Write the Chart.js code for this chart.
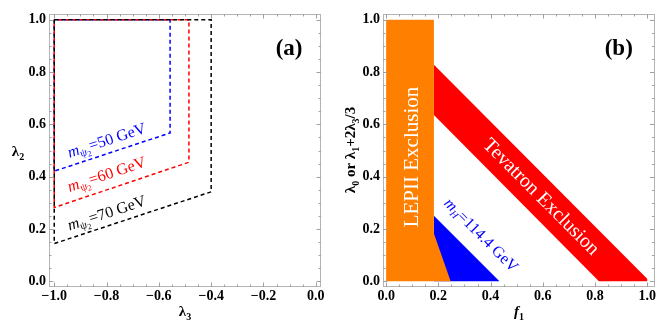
<!DOCTYPE html>
<html><head><meta charset="utf-8">
<script src="https://cdn.jsdelivr.net/npm/chart.js@4.4.1/dist/chart.umd.min.js"></script>
<style>
html,body{margin:0;padding:0;background:#fff;}
#wrap{position:relative;width:667px;height:334px;}
canvas{position:absolute;top:0;}
</style></head><body>
<div id="wrap">
<canvas id="ca" width="334" height="334" style="left:0"></canvas>
<canvas id="cb" width="333" height="334" style="left:334px"></canvas>
</div>
<script>
// ---------- Panel (a) data ----------
const lam3Ticks = [-1.0, -0.8, -0.6, -0.4, -0.2, 0.0];
const lam2Ticks = [0.0, 0.2, 0.4, 0.6, 0.8, 1.0];
const m50X = [-1.0, -1.0, -0.557, -0.557, -1.0];
const m50Y = [1.0, 0.421, 0.567, 1.0, 1.0];
const m60X = [-1.0, -1.0, -0.485, -0.485, -1.0];
const m60Y = [1.0, 0.282, 0.455, 1.0, 1.0];
const m70X = [-1.0, -1.0, -0.400, -0.400, -1.0];
const m70Y = [1.0, 0.144, 0.342, 1.0, 1.0];
const massValues = ['50', '60', '70'];
// ---------- Panel (b) data ----------
const f1Ticks = [0.0, 0.2, 0.4, 0.6, 0.8, 1.0];
const lamTicksB = [0.0, 0.2, 0.4, 0.6, 0.8, 1.0];
const lepX = [0.0, 0.0, 0.183, 0.183, 0.247, 0.0];
const lepY = [0.0, 1.0, 1.0, 0.183, 0.0, 0.0];
const tevX = [0.183, 1.0, 1.0, 0.815, 0.183, 0.183];
const tevY = [0.828, 0.010, 0.0, 0.0, 0.636, 0.828];
const higgsX = [0.183, 0.434, 0.183, 0.183];
const higgsY = [0.250, 0.0, 0.0, 0.250];
const higgsMass = '114.4';

const zip = (xs, ys) => xs.map((x, i) => ({x: x, y: ys[i]}));
const SERIF = "'Liberation Serif', 'Times New Roman', serif";
const fmt = v => (v < -1e-9 ? '\u2212' : '') + Math.abs(v).toFixed(1);

function segFont(s) {
  return (s.it ? 'italic ' : '') + (s.b ? 'bold ' : '') + s.size + 'px ' + SERIF;
}
function drawRich(ctx, segs, x, y, angle, color) {
  ctx.save();
  let w = 0;
  segs.forEach(s => { ctx.font = segFont(s); s.w = ctx.measureText(s.t).width; w += s.w; });
  const main = Math.max(...segs.map(s => s.size));
  ctx.translate(x, y);
  ctx.rotate(angle);
  ctx.fillStyle = color;
  ctx.textBaseline = 'alphabetic';
  ctx.textAlign = 'left';
  let cx = -w / 2;
  segs.forEach(s => {
    ctx.font = segFont(s);
    ctx.fillText(s.t, cx, main * 0.33 + (s.dy || 0));
    cx += s.w;
  });
  ctx.restore();
}

// frame + inward ticks, Mathematica style
const framePlugin = {
  id: 'frameTicks',
  afterDatasetsDraw(chart) {
    const {ctx, chartArea: a, scales: {x, y}} = chart;
    ctx.save();
    ctx.strokeStyle = '#b4b4b4';
    ctx.lineWidth = 1;
    ctx.strokeRect(Math.round(a.left) + 0.5, Math.round(a.top) + 0.5,
                   Math.round(a.right - a.left) - 1, Math.round(a.bottom - a.top) - 1);
    ctx.strokeStyle = '#a0a0a0';
    const step = 0.05;
    ctx.beginPath();
    for (let k = Math.ceil(x.min / step - 1e-6); k * step <= x.max + 1e-9; k++) {
      const v = k * step;
      const major = Math.abs(Math.round(k / 4) - k / 4) < 1e-6;
      const L = major ? 4.5 : 2.5;
      const px = Math.round(x.getPixelForValue(v)) + 0.5;
      ctx.moveTo(px, a.bottom); ctx.lineTo(px, a.bottom - L);
      ctx.moveTo(px, a.top); ctx.lineTo(px, a.top + L);
    }
    for (let k = Math.ceil(y.min / step - 1e-6); k * step <= y.max + 1e-9; k++) {
      const v = k * step;
      const major = Math.abs(Math.round(k / 4) - k / 4) < 1e-6;
      const L = major ? 4.5 : 2.5;
      const py = Math.round(y.getPixelForValue(v)) + 0.5;
      ctx.moveTo(a.left, py); ctx.lineTo(a.left + L, py);
      ctx.moveTo(a.right, py); ctx.lineTo(a.right - L, py);
    }
    ctx.stroke();
    ctx.restore();
  },
  afterDraw(chart) {
    const o = chart.options.plugins.richLabels;
    if (!o) return;
    const {ctx, scales: {x, y}} = chart;
    o.items.forEach(it => {
      const px = it.data ? x.getPixelForValue(it.pos[0]) : it.pos[0];
      const py = it.data ? y.getPixelForValue(it.pos[1]) : it.pos[1];
      let ang = it.angle || 0;
      if (it.along) {
        const [x0, y0, x1, y1] = it.along;
        ang = Math.atan2(y.getPixelForValue(y1) - y.getPixelForValue(y0),
                         x.getPixelForValue(x1) - x.getPixelForValue(x0));
      }
      drawRich(ctx, it.segs, px, py, ang, it.color);
    });
  }
};

function makeOptions(xmin, xmax, ymin, ymax, xt, yt, rightPad, items) {
  return {
    responsive: false,
    animation: false,
    devicePixelRatio: 1,
    layout: {padding: {top: 14, right: rightPad, left: 0, bottom: 0}},
    plugins: {legend: {display: false}, tooltip: {enabled: false},
              richLabels: {items: items}},
    scales: {
      x: {type: 'linear', min: xmin, max: xmax,
          grid: {display: false, drawTicks: false}, border: {display: false},
          afterBuildTicks: s => { s.ticks = xt.map(v => ({value: v})); },
          afterFit: s => { s.height = 47; },
          ticks: {padding: 1, maxRotation: 0, autoSkip: false, color: '#000',
                  font: {family: SERIF, weight: 'bold', size: 14},
                  callback: v => fmt(v)}},
      y: {type: 'linear', min: ymin, max: ymax,
          grid: {display: false, drawTicks: false}, border: {display: false},
          afterBuildTicks: s => { s.ticks = yt.map(v => ({value: v})); },
          afterFit: s => { s.width = 49; },
          ticks: {padding: 3, autoSkip: false, color: '#000',
                  font: {family: SERIF, weight: 'bold', size: 14},
                  callback: v => fmt(v)}}
    }
  };
}

function massSegs(m) {
  return [{t: 'm', size: 16, it: true}, {t: '\u03C8', size: 11, it: false, dy: 3},
          {t: '2', size: 8, dy: 5}, {t: '=' + m + ' GeV', size: 16}];
}

const lineDs = (xs, ys, color, order, off) => ({
  data: zip(xs, ys), showLine: true, borderColor: color, borderWidth: 1.5,
  borderDash: [4, 3], borderDashOffset: off, pointRadius: 0, fill: false, order: order
});

new Chart(document.getElementById('ca'), {
  type: 'scatter',
  data: {datasets: [
    lineDs(m70X, m70Y, '#000000', 0, 0),
    lineDs(m60X, m60Y, '#ff0000', 1, 3.5),
    lineDs(m50X, m50Y, '#0000ff', 2, 1.5)
  ]},
  options: makeOptions(-1.02, 0.02, -0.022, 1.022, lam3Ticks, lam2Ticks, 13, [
    {data: true, pos: [-0.800, 0.540], along: [m50X[1], m50Y[1], m50X[2], m50Y[2]], color: '#0000ff', segs: massSegs(massValues[0])},
    {data: true, pos: [-0.800, 0.410], along: [m60X[1], m60Y[1], m60X[2], m60Y[2]], color: '#ff0000', segs: massSegs(massValues[1])},
    {data: true, pos: [-0.800, 0.262], along: [m70X[1], m70Y[1], m70X[2], m70Y[2]], color: '#000000', segs: massSegs(massValues[2])},
    {data: true, pos: [-0.102, 0.896], color: '#000', segs: [{t: '(a)', size: 23, b: true}]},
    {data: false, pos: [18, 151], color: '#000', segs: [{t: '\u03BB', size: 15, b: true}, {t: '2', size: 10, b: true, dy: 4}]},
    {data: false, pos: [185, 311], color: '#000', segs: [{t: '\u03BB', size: 15, b: true}, {t: '3', size: 10, b: true, dy: 4}]}
  ])
  , plugins: [framePlugin]
});

new Chart(document.getElementById('cb'), {
  type: 'scatter',
  data: {datasets: [
    {data: zip(lepX, lepY), showLine: true, borderWidth: 0, pointRadius: 0, backgroundColor: '#ff8000', fill: 'shape', order: 0},
    {data: zip(higgsX, higgsY), showLine: true, borderWidth: 0, pointRadius: 0, backgroundColor: '#0000ff', fill: 'shape', order: 1},
    {data: zip(tevX, tevY), showLine: true, borderWidth: 0, pointRadius: 0, backgroundColor: '#ff0000', fill: 'shape', order: 2}
  ]},
  options: makeOptions(-0.012, 1.028, -0.022, 1.022, f1Ticks, lamTicksB, 12.5, [
    {data: true, pos: [0.095, 0.475], angle: -Math.PI / 2, color: '#ffffff', segs: [{t: 'LEPII Exclusion', size: 21}]},
    {data: true, pos: [0.596, 0.325], along: [tevX[0], tevY[0], tevX[1], tevY[1]], color: '#ffffff', segs: [{t: 'Tevatron Exclusion', size: 20}]},
    {data: true, pos: [0.365, 0.178], along: [higgsX[0], higgsY[0], higgsX[1], higgsY[1]], color: '#0000ff',
     segs: [{t: 'm', size: 16, it: true}, {t: 'H', size: 10, it: true, dy: 3}, {t: '=' + higgsMass + ' GeV', size: 16}]},
    {data: true, pos: [0.891, 0.896], color: '#000', segs: [{t: '(b)', size: 23, b: true}]},
    {data: false, pos: [16, 150], angle: -Math.PI / 2, color: '#000', segs: [
      {t: '\u03BB', size: 15, b: true}, {t: '0', size: 10, b: true, dy: 4}, {t: ' or ', size: 15, b: true},
      {t: '\u03BB', size: 15, b: true}, {t: '1', size: 10, b: true, dy: 4}, {t: '+2', size: 15, b: true},
      {t: '\u03BB', size: 15, b: true}, {t: '3', size: 10, b: true, dy: 4}, {t: '/3', size: 15, b: true}]},
    {data: false, pos: [185, 311], color: '#000', segs: [{t: 'f', size: 15, it: true, b: true}, {t: '1', size: 10, b: true, dy: 4}]}
  ])
  , plugins: [framePlugin]
});
</script>
</body></html>
